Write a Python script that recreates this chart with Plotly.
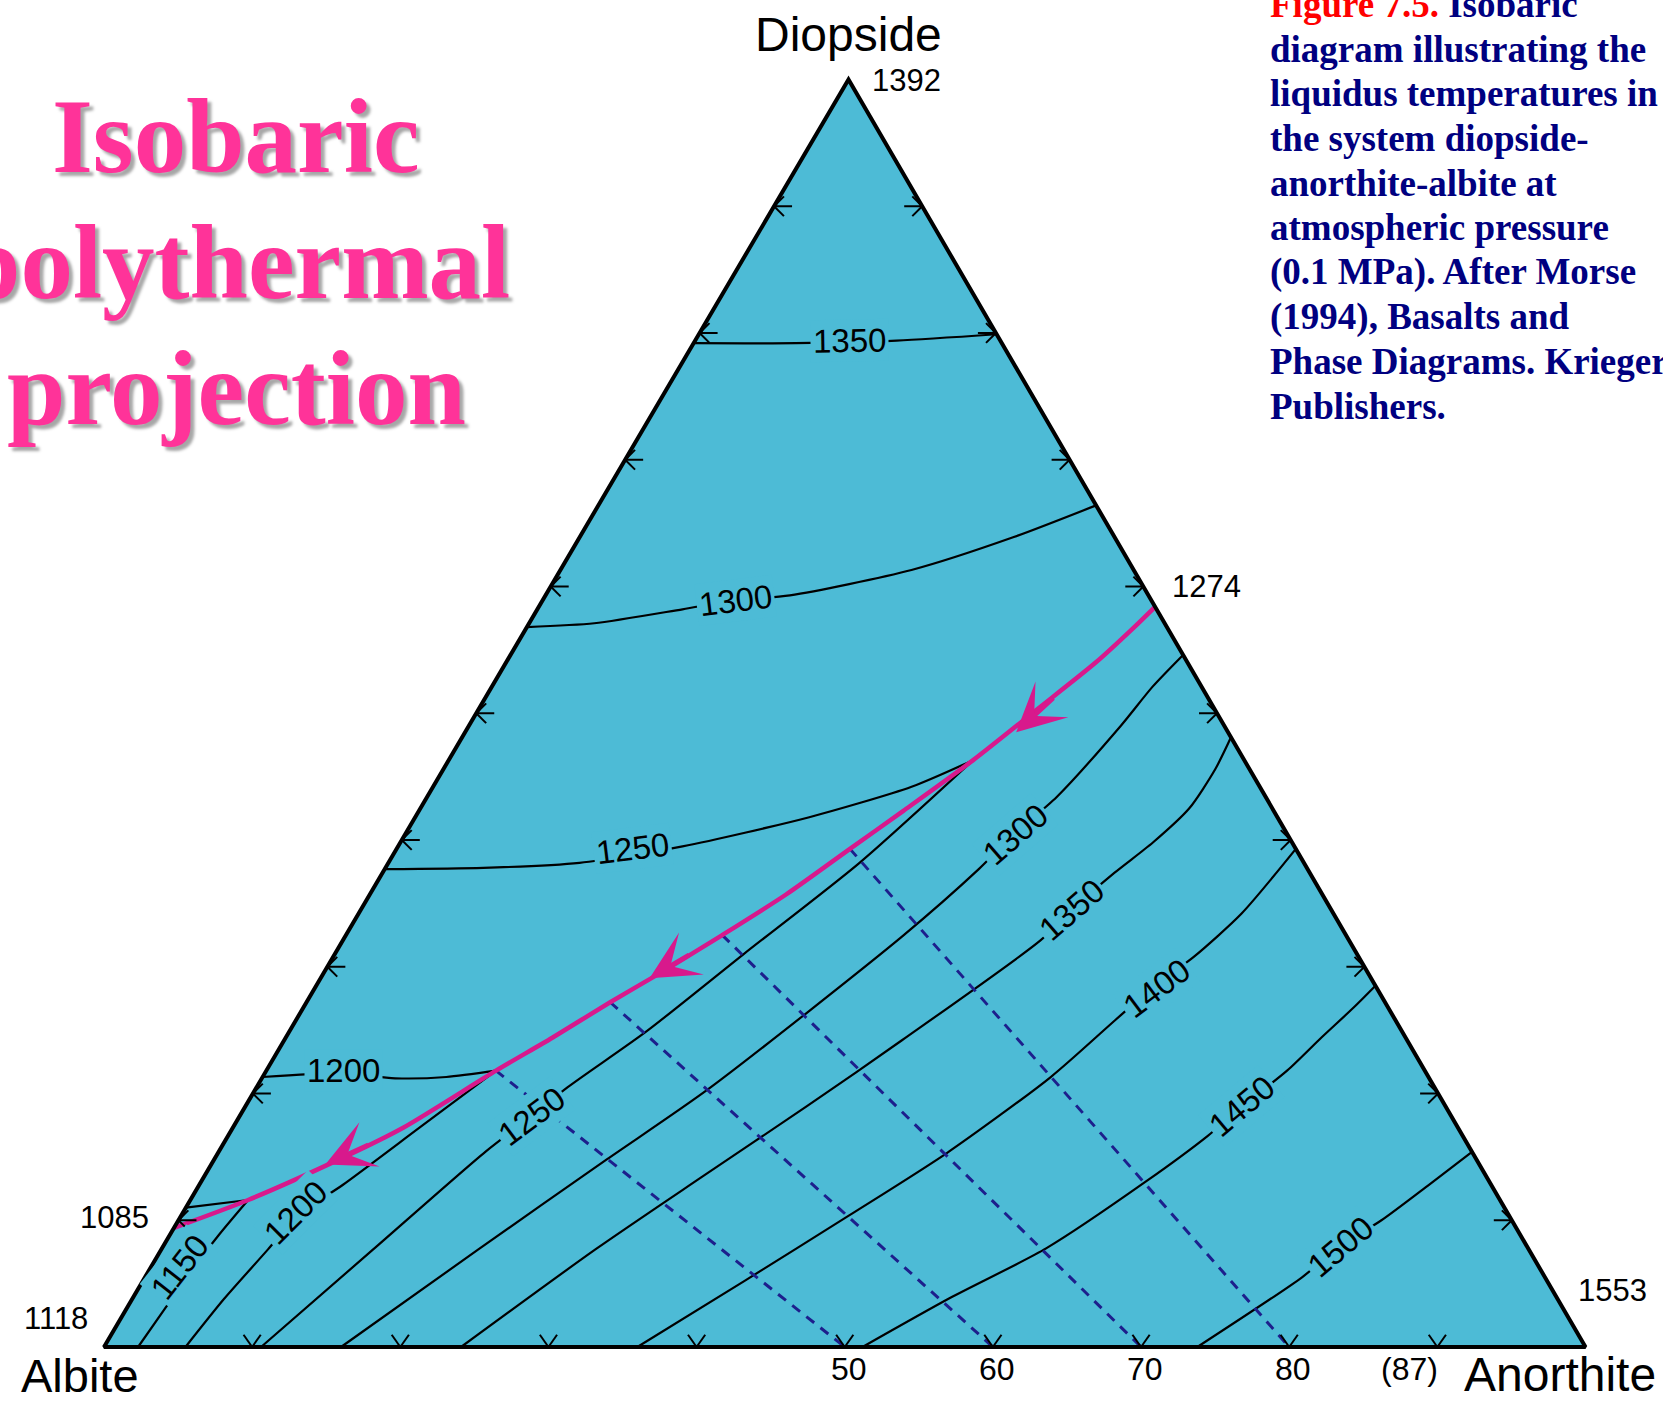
import math
import plotly.graph_objects as go

# ---------------------------------------------------------------------------
# System diopside - anorthite - albite at 0.1 MPa.
# Compositions in wt%: Di and An, Ab = 100 - Di - An.  Temperatures in deg C.
# ---------------------------------------------------------------------------

# Di + plagioclase cotectic, from the Di-An join down to the Di-Ab eutectic
cotectic_di = [58.4, 56.8, 54.0, 50.3, 46.3, 42.3, 39.3, 35.7, 32.5, 29.7, 27.2,
               24.4, 21.8, 17.3, 15.0, 11.6, 9.4]
cotectic_an = [41.6, 41.0, 39.8, 37.7, 35.4, 32.7, 30.6, 28.1, 25.4, 22.9, 20.5,
               18.0, 15.5, 11.5, 8.7, 3.9, 0.0]

# liquidus isotherms in the diopside field
di_field_isotherms = {
    1350: {"di": [79.2, 79.2, 79.4, 79.9], "an": [0.0, 6.9, 13.6, 20.1]},
    1300: {"di": [56.8, 57.1, 58.2, 58.9, 59.3, 61.3, 63.9, 66.4],
           "an": [0.0, 4.4, 9.8, 13.0, 16.5, 23.7, 29.3, 33.6]},
    1250: {"di": [37.7, 37.8, 38.2, 39.5, 41.8, 44.2, 46.3],
           "an": [0.0, 6.6, 12.9, 19.2, 26.6, 32.3, 35.4]},
    1200: {"di": [21.3, 21.6, 21.2, 21.3, 21.8], "an": [0.0, 5.2, 9.0, 12.4, 15.5]},
    1150: {"di": [11.0, 11.6], "an": [0.0, 3.9]},
}

# liquidus isotherms in the plagioclase field
plag_field_isotherms = {
    1150: {"di": [11.6, 8.8, 6.1, 3.1, 0.0], "an": [3.9, 3.3, 2.9, 2.6, 2.3]},
    1200: {"di": [21.8, 17.3, 12.8, 10.3, 7.7, 3.8, 0.0],
           "an": [15.5, 12.6, 9.7, 7.8, 7.2, 6.2, 5.5]},
    1250: {"di": [46.3, 38.2, 31.0, 24.9, 20.5, 18.2, 15.4, 7.7, 0.0],
           "an": [35.4, 31.8, 27.6, 24.1, 21.0, 19.7, 18.0, 14.3, 10.6]},
    1300: {"di": [54.6, 52.1, 49.0, 43.4, 40.5, 37.7, 32.4, 20.4, 14.8, 7.7, 0.0],
           "an": [45.4, 44.6, 44.0, 42.5, 41.1, 40.1, 37.6, 30.6, 26.5, 21.4, 16.0]},
    1350: {"di": [48.1, 45.6, 42.5, 39.8, 37.4, 34.5, 32.1, 24.2, 19.0, 13.4, 7.7, 0.0],
           "an": [51.9, 52.1, 51.9, 50.8, 49.4, 48.0, 47.1, 41.7, 37.9, 33.6, 29.3, 24.1]},
    1400: {"di": [39.3, 34.2, 30.8, 28.5, 25.8, 21.3, 15.3, 10.4, 5.2, 0.0],
           "an": [60.7, 59.6, 58.1, 56.6, 55.3, 53.2, 49.2, 45.1, 40.6, 36.0]},
    1450: {"di": [28.5, 26.8, 24.4, 21.8, 19.0, 16.6, 13.1, 7.8, 3.9, 0.0],
           "an": [71.5, 70.9, 69.9, 68.9, 67.3, 66.1, 63.8, 59.7, 55.2, 51.2]},
    1500: {"di": [15.4, 12.8, 10.0, 7.9, 5.5, 0.0],
           "an": [84.6, 83.0, 81.2, 79.4, 78.1, 73.8]},
}

# dashed lines from plagioclase compositions on the Ab-An join to the cotectic
tie_liquid_di = [21.8, 27.2, 32.5, 39.3]
tie_liquid_an = [15.5, 20.5, 25.4, 30.6]
tie_plag_an = [50, 60, 70, 80]

# arrows of falling temperature along the cotectic (tail -> tip)
arrow_tail_di = [51.3, 31.0, 16.0]
arrow_tail_an = [38.4, 24.0, 9.9]
arrow_tip_di = [48.5, 29.1, 14.4]
arrow_tip_an = [37.2, 22.2, 7.7]

# 10 % ticks on the three sides
side_ticks = [10, 20, 30, 40, 50, 60, 70, 80, 90]
base_label_an = [50, 60, 70, 80, 90]
base_label_text = ["50", "60", "70", "80", "(87)"]

# end-member and eutectic temperatures
t_diopside, t_anorthite, t_albite = 1392, 1553, 1118
t_di_an_eutectic, t_di_ab_eutectic = 1274, 1085

caption_lines = [
    '<span style="color:#FF0000">Figure 7.5.</span> Isobaric',
    "diagram illustrating the",
    "liquidus temperatures in",
    "the system diopside-",
    "anorthite-albite at",
    "atmospheric pressure",
    "(0.1 MPa). After Morse",
    "(1994), Basalts and",
    "Phase Diagrams. Krieger",
    "Publishers.",
]
title_lines = ["Isobaric", "polythermal", "projection"]

# ---------------------------------------------------------------------------
W, H = 1663, 1404
FILL = "#4DBBD6"
MAGENTA = "#D8198C"
NAVY_DASH = "#1D1F8C"
SANS = "Liberation Sans"
SERIF = "Liberation Serif"

# page positions of the three corners
P_AB = (104.0, 1347.0)
P_AN = (1585.5, 1347.0)
P_DI = (848.5, 79.5)


def xy(di, an):
    d, a = di / 100.0, an / 100.0
    b = 1.0 - d - a
    return (b * P_AB[0] + a * P_AN[0] + d * P_DI[0],
            b * P_AB[1] + a * P_AN[1] + d * P_DI[1])


def xy_list(dis, ans):
    pts = [xy(d, a) for d, a in zip(dis, ans)]
    return [p[0] for p in pts], [p[1] for p in pts]


fig = go.Figure()

# triangle fill
tri_x = [P_AB[0], P_AN[0], P_DI[0], P_AB[0]]
tri_y = [P_AB[1], P_AN[1], P_DI[1], P_AB[1]]
fig.add_trace(go.Scatter(x=tri_x, y=tri_y, mode="lines", fill="toself",
                         fillcolor=FILL, line=dict(width=0), hoverinfo="skip"))

# isotherms
for field in (di_field_isotherms, plag_field_isotherms):
    for t, line in field.items():
        xs, ys = xy_list(line["di"], line["an"])
        fig.add_trace(go.Scatter(x=xs, y=ys, mode="lines", hoverinfo="skip",
                                 line=dict(color="black", width=2.2,
                                           shape="spline", smoothing=0.7)))

# plagioclase - liquid lines
for d0, a0, ap in zip(tie_liquid_di, tie_liquid_an, tie_plag_an):
    xs, ys = xy_list([d0, 0.0], [a0, ap])
    fig.add_trace(go.Scatter(x=xs, y=ys, mode="lines", hoverinfo="skip",
                             line=dict(color=NAVY_DASH, width=3, dash="10px,8px")))

# cotectic
cx, cy = xy_list(cotectic_di, cotectic_an)
fig.add_trace(go.Scatter(x=cx, y=cy, mode="lines", hoverinfo="skip",
                         line=dict(color=MAGENTA, width=4.5, shape="spline", smoothing=0.7)))


# arrow-shaped tick marks on the sides
def chevron(px, py, ux, uy, arm, spread, stem):
    xs, ys = [], []
    for s in (-1, 1):
        ang = math.radians(spread) * s
        rx = ux * math.cos(ang) - uy * math.sin(ang)
        ry = ux * math.sin(ang) + uy * math.cos(ang)
        xs += [px, px + arm * rx, None]
        ys += [py, py + arm * ry, None]
    if stem:
        xs += [px, px + stem * ux, None]
        ys += [py, py + stem * uy, None]
    return xs, ys


tick_x, tick_y = [], []
for v in side_ticks:
    for (d, a, ux, uy, arm, spread, stem) in (
        (v, 0.0, 1.0, 0.0, 14, 45, 18),            # Di-Ab side
        (v, 100.0 - v, -1.0, 0.0, 14, 45, 18),     # Di-An side
        (0.0, v, 0.0, -1.0, 15, 35, 0),            # Ab-An side
    ):
        px, py = xy(d, a)
        xs, ys = chevron(px, py, ux, uy, arm, spread, stem)
        tick_x += xs
        tick_y += ys
fig.add_trace(go.Scatter(x=tick_x, y=tick_y, mode="lines", hoverinfo="skip",
                         line=dict(color="black", width=2)))

# triangle outline
fig.add_trace(go.Scatter(x=tri_x + [tri_x[1]], y=tri_y + [tri_y[1]], mode="lines",
                         hoverinfo="skip", line=dict(color="black", width=4)))

ann = []

# isotherm labels: (temperature, Di, An, angle)
label_place = [
    (1350, 79.4, 10.4, -1), (1300, 58.9, 13.0, -7), (1250, 39.3, 15.9, -7),
    (1200, 21.8, 5.2, 0),
    (1150, 6.3, 1.9, -52), (1200, 10.6, 7.6, -45), (1250, 18.2, 19.7, -37),
    (1300, 40.4, 41.2, -41), (1350, 34.5, 48.0, -41), (1400, 28.3, 56.8, -37),
    (1450, 19.0, 67.2, -40), (1500, 7.9, 79.5, -40),
]
for t, d, a, ang in label_place:
    x, y = xy(d, a)
    ann.append(dict(x=x, y=y, xref="x", yref="y", text=str(t), showarrow=False,
                    textangle=ang, bgcolor=FILL, borderpad=2,
                    font=dict(family=SANS, size=33, color="black")))

# cotectic arrows
for td, ta, hd, ha in zip(arrow_tail_di, arrow_tail_an, arrow_tip_di, arrow_tip_an):
    tx, ty = xy(td, ta)
    hx, hy = xy(hd, ha)
    ann.append(dict(x=hx, y=hy, ax=tx, ay=ty, xref="x", yref="y", axref="x", ayref="y",
                    text="", showarrow=True, arrowhead=3, arrowsize=1.8,
                    arrowwidth=4.5, arrowcolor=MAGENTA, standoff=0))

# base labels
for a, txt in zip(base_label_an, base_label_text):
    x, y = xy(0.0, a)
    right = txt.startswith("(")
    ann.append(dict(x=x + (3 if right else 4), y=y + 22, xref="x", yref="y", text=txt,
                    showarrow=False, xanchor="right" if right else "center",
                    yanchor="middle", font=dict(family=SANS, size=32, color="black")))

# corners and eutectics
xd, yd = xy(100, 0)
xa, ya = xy(0, 100)
xb, yb = xy(0, 0)
xe1, ye1 = xy(cotectic_di[0], cotectic_an[0])
xe2, ye2 = xy(cotectic_di[-1], cotectic_an[-1])
corner_text = [
    ("Diopside", xd, yd - 45, "center", 48),
    (str(t_diopside), xd + 21, yd + 1, "left", 31),
    ("Albite", xb - 24, yb + 28, "center", 47),
    (str(t_albite), xb - 14, yb - 29, "right", 31),
    ("Anorthite", xa - 124, ya + 27, "left", 48),
    (str(t_anorthite), xa - 10, ya - 57, "left", 31),
    (str(t_di_an_eutectic), xe1 + 15, ye1 - 20, "left", 31),
    (str(t_di_ab_eutectic), xe2 - 23, ye2 - 10, "right", 31),
]
for txt, x, y, anchor, size in corner_text:
    ann.append(dict(x=x, y=y, xref="x", yref="y", text=txt, showarrow=False,
                    xanchor=anchor, yanchor="middle",
                    font=dict(family=SANS, size=size, color="black")))

# slide title
for i, line in enumerate(title_lines):
    ann.append(dict(x=236, y=136 + 126 * i, xref="x", yref="y",
                    text="<b>%s</b>" % line, showarrow=False,
                    xanchor="center", yanchor="middle",
                    font=dict(family=SERIF, size=105, color="#FF3399",
                              shadow="4px 4px 3px rgba(0,0,0,0.35)")))

# figure caption
for i, line in enumerate(caption_lines):
    ann.append(dict(x=1268, y=17 + 44.65 * i - 12.6, xref="x", yref="y",
                    text="<b>%s</b>" % line, showarrow=False,
                    xanchor="left", yanchor="middle",
                    font=dict(family=SERIF, size=37, color="#000080")))

fig.update_layout(
    width=W, height=H, margin=dict(l=0, r=0, t=0, b=0),
    paper_bgcolor="white", plot_bgcolor="white", showlegend=False,
    xaxis=dict(range=[0, W], visible=False, fixedrange=True),
    yaxis=dict(range=[H, 0], visible=False, fixedrange=True),
    annotations=ann,
)

fig.write_html("out.html")
